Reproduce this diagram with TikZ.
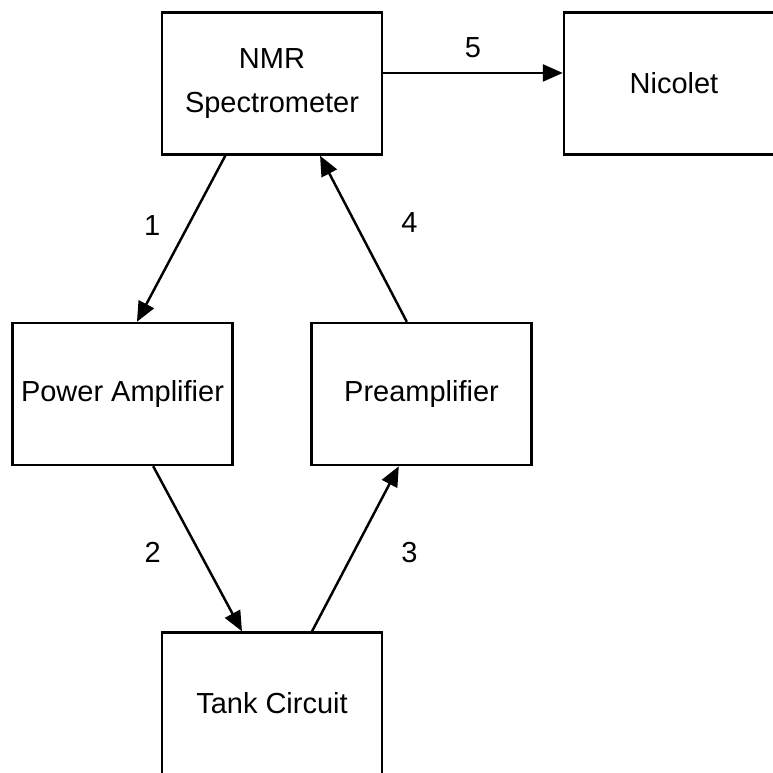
\documentclass[tikz,border=0pt]{standalone}
\usepackage{fontspec}
\setmainfont{Liberation Sans}
\usepackage{tikz}
\usetikzlibrary{arrows.meta, calc}

\begin{document}
\begin{tikzpicture}[x=0.02cm, y=-0.02cm,
    block/.style={draw, line width=1.4pt, minimum width=4.4cm, minimum height=2.84cm,
        align=center, font=\fontsize{16.5}{25}\selectfont},
    sig/.style={-{Triangle[length=0.4cm,width=0.34cm]}, line width=1.4pt},
    num/.style={font=\fontsize{16.5}{19}\selectfont}]
    \useasboundingbox (0,0) rectangle (773,772);

    % Blocks
    \node[block] (nmr) at (272,83.5) {NMR\\Spectrometer};
    \node[block] (nic) at (674,83.5) {Nicolet};
    \node[block] (pa) at (122.5,394) {Power Amplifier};
    \node[block] (pre) at (421.5,394) {Preamplifier};
    \node[block] (tank) at (272,703.5) {Tank Circuit};

    % Signal path
    \draw[sig] ($(nmr.south west)!0.29!(nmr.south east)$) -- ($(pa.north west)!0.565!(pa.north east)$)
        node[num, midway, xshift=-0.58cm, yshift=0.26cm] {1};
    \draw[sig] ($(pa.south west)!0.638!(pa.south east)$) -- ($(tank.north west)!0.365!(tank.north east)$)
        node[num, midway, xshift=-0.9cm, yshift=-0.08cm] {2};
    \draw[sig] ($(tank.north west)!0.68!(tank.north east)$) -- ($(pre.south west)!0.398!(pre.south east)$)
        node[num, midway, xshift=1.08cm, yshift=-0.08cm] {3};
    \draw[sig] ($(pre.north west)!0.434!(pre.north east)$) -- ($(nmr.south west)!0.716!(nmr.south east)$)
        node[num, midway, xshift=0.92cm, yshift=0.32cm] {4};
    \draw[sig] ($(nmr.north east)!0.427!(nmr.south east)$) coordinate (out) -- (out -| nic.west)
        node[num, midway, yshift=0.5cm] {5};
\end{tikzpicture}
\end{document}
